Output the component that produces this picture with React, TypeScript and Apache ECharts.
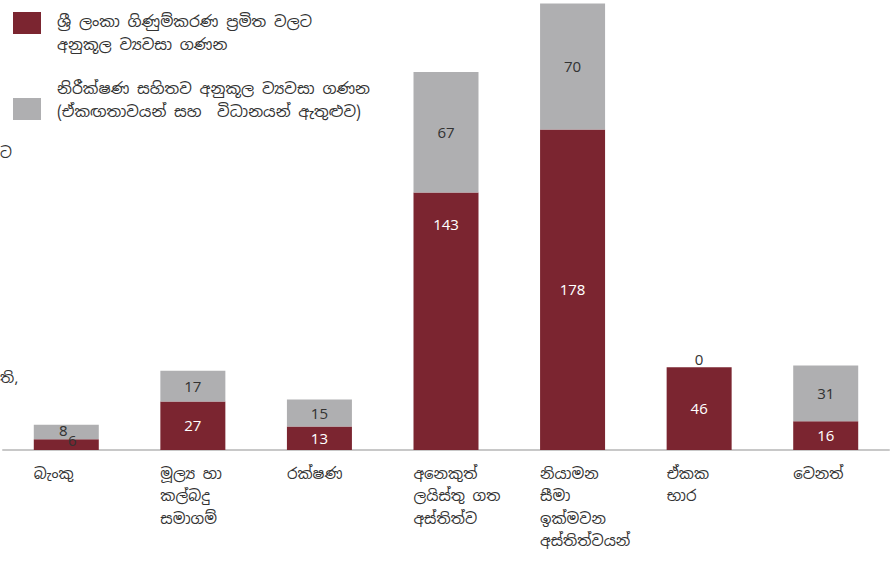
import React, { useEffect, useRef } from "react";
import * as echarts from "echarts";

const categories = [
  "බැංකු",
  "මූල්‍ය හා\nකල්බදු\nසමාගම්",
  "රක්ෂණ",
  "අනෙකුත්\nලයිස්තු ගත\nඅස්තිත්ව",
  "නියාමන\nසීමා\nඉක්මවන\nඅස්තිත්වයන්",
  "ඒකක\nභාර",
  "වෙනත්",
];
const seriesNames = [
  "ශ්‍රී ලංකා ගිණුම්කරණ ප්‍රමිත වලට\nඅනුකූල ව්‍යවසා ගණන",
  "නිරීක්ෂණ සහිතව අනුකූල ව්‍යවසා ගණන\n(ඒකඟතාවයන් සහ  විධානයන් ඇතුළුව)",
];
const compliantValues = [6, 27, 13, 143, 178, 46, 16];
const observedValues = [8, 17, 15, 67, 70, 0, 31];

const RED = "#7B2530";
const GRAY = "#AFAFB1";
const FONT = "'Noto Sans Sinhala', 'Noto Sans', 'Open Sans', sans-serif";

// legend swatches: a 28x22 square placed at the top / bottom of a 39x41 box
const ICON_TOP = "path://M0,0h28v22h-28z M38.99,40.99h0.01v0.01h-0.01z";
const ICON_BOTTOM = "path://M38.99,0h0.01v0.01h-0.01z M0,19h28v22h-28z";

export default function App() {
  const ref = useRef<HTMLDivElement>(null);
  useEffect(() => {
    document.body.style.margin = "0";
    const chart = echarts.init(ref.current!, null, { renderer: "svg" });
    const redData = compliantValues.map((v, i) => {
      if (i === 0)
        return { value: v, label: { color: "#333", offset: [6, -4] } };
      if (i === 3)
        return { value: v, label: { position: "insideTop", distance: 24 } };
      return v;
    });
    const grayData = observedValues.map((v, i) => {
      if (i === 0) return { value: v, label: { offset: [-3, -2] } };
      if (v === 0)
        return { value: v, label: { position: "top", distance: 0 } };
      return v;
    });
    chart.setOption({
      animation: false,
      textStyle: { fontFamily: FONT },
      grid: {
        left: 3,
        right: 1,
        top: 0,
        bottom: 113,
        containLabel: false,
        outerBoundsMode: "none",
      },
      legend: {
        orient: "vertical",
        left: 13,
        top: 9.5,
        padding: 0,
        itemGap: 21,
        itemWidth: 39,
        itemHeight: 41,
        selectedMode: false,
        textStyle: {
          fontSize: 15.5,
          lineHeight: 23,
          color: "#333",
          fontFamily: FONT,
        },
        data: [
          { name: seriesNames[0], icon: ICON_TOP },
          { name: seriesNames[1], icon: ICON_BOTTOM },
        ],
      },
      xAxis: {
        type: "category",
        data: categories,
        axisLine: { lineStyle: { color: "#C8C8C8", width: 2 } },
        axisTick: { show: false },
        axisLabel: {
          interval: 0,
          margin: 12,
          formatter: (v: string) =>
            v
              .split("\n")
              .map((l) => `{a|${l}}`)
              .join("\n"),
          rich: {
            a: {
              width: 65,
              align: "left",
              fontSize: 15,
              lineHeight: 22.5,
              color: "#333",
              fontFamily: FONT,
            },
          },
        },
      },
      yAxis: {
        type: "value",
        min: 0,
        max: 250,
        show: false,
        splitLine: { show: false },
      },
      series: [
        {
          name: seriesNames[0],
          type: "bar",
          stack: "total",
          barWidth: 65,
          itemStyle: { color: RED },
          label: {
            show: true,
            position: "inside",
            color: "#fff",
            fontSize: 15,
            fontFamily: FONT,
          },
          data: redData,
        },
        {
          name: seriesNames[1],
          type: "bar",
          stack: "total",
          barWidth: 65,
          itemStyle: { color: GRAY },
          label: {
            show: true,
            position: "inside",
            color: "#333",
            fontSize: 15,
            fontFamily: FONT,
          },
          data: grayData,
        },
      ],
      graphic: [
        {
          type: "text",
          left: 0,
          top: 145,
          style: { text: "ට", fontSize: 15, fill: "#333", fontFamily: FONT },
        },
        {
          type: "text",
          left: 0,
          top: 370,
          style: { text: "ති,", fontSize: 15, fill: "#333", fontFamily: FONT },
        },
      ],
    });
    return () => chart.dispose();
  }, []);
  return <div ref={ref} style={{ width: 890, height: 563 }} />;
}
